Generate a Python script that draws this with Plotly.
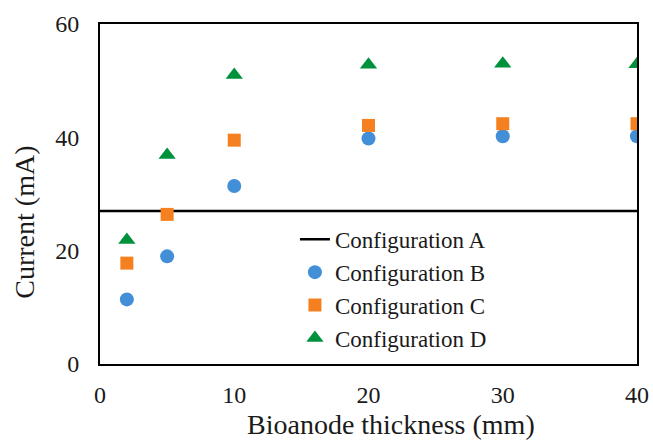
import plotly.graph_objects as go

thickness = [2, 5, 10, 20, 30, 40]
config_a = [27, 27]
config_a_x = [0, 40]
config_b = [11.4, 19.0, 31.4, 39.8, 40.2, 40.2]
config_c = [17.8, 26.4, 39.5, 42.1, 42.4, 42.4]
config_d = [21.9, 36.9, 51.0, 52.8, 53.0, 52.9]
x_ticks = [0, 10, 20, 30, 40]
y_ticks = [0, 20, 40, 60]

FONT = "Liberation Serif, Times New Roman, serif"

fig = go.Figure()
fig.add_trace(go.Scatter(x=config_a_x, y=config_a, mode="lines", name="Configuration A",
                         line=dict(color="black", width=2.5)))
fig.add_trace(go.Scatter(x=thickness, y=config_b, mode="markers", name="Configuration B",
                         marker=dict(symbol="circle", size=14, color="#428FD8")))
fig.add_trace(go.Scatter(x=thickness, y=config_c, mode="markers", name="Configuration C",
                         marker=dict(symbol="square", size=13, color="#F5801F")))
fig.add_trace(go.Scatter(x=thickness, y=config_d, mode="markers", name="Configuration D",
                         marker=dict(symbol="triangle-up", size=15, color="#00913C")))

fig.update_layout(
    width=653, height=441,
    margin=dict(l=100, r=16, t=24, b=77, autoexpand=False),
    paper_bgcolor="white", plot_bgcolor="white",
    font=dict(family=FONT, size=24, color="#1a1a1a"),
    legend=dict(x=0.363, y=0.43, xanchor="left", yanchor="top",
                bgcolor="rgba(0,0,0,0)", font=dict(size=23, family=FONT),
                tracegroupgap=0),
    xaxis=dict(range=[0, 40], tickvals=x_ticks, showline=True, linecolor="black", linewidth=2,
               mirror=True, ticks="", showgrid=False, zeroline=False, automargin=False,
               ticklabelstandoff=8),
    yaxis=dict(range=[0, 60], tickvals=y_ticks, showline=True, linecolor="black", linewidth=2,
               mirror=True, ticks="", showgrid=False, zeroline=False, automargin=False,
               ticklabelstandoff=14),
    annotations=[
        dict(text="Bioanode thickness (mm)", xref="paper", yref="paper",
             x=0.542, y=-0.178, xanchor="center", yanchor="middle",
             showarrow=False, font=dict(size=28, family=FONT, color="#1a1a1a")),
        dict(text="Current (mA)", xref="paper", yref="paper", textangle=-90,
             x=-0.14, y=0.418, xanchor="center", yanchor="middle",
             showarrow=False, font=dict(size=28, family=FONT, color="#1a1a1a")),
    ],
)
fig.write_html("out.html", config={"displayModeBar": False},
               post_script="document.body.style.margin='0px';document.body.style.overflow='hidden';")
